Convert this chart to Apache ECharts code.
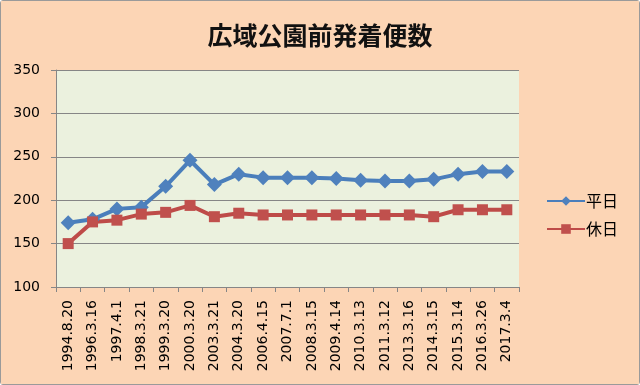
<!DOCTYPE html>
<html><head><meta charset="utf-8">
<script src="https://cdn.jsdelivr.net/npm/echarts@6/dist/echarts.min.js"></script>
<style>
html,body{margin:0;padding:0;background:#fff;}
#c{position:absolute;left:0;top:0;width:638px;height:383px;border:1px solid #9a9a9a;border-radius:3px;background:#FCD5B5;}
</style></head><body>
<div id="c"></div>
<script>
const categories = ["1994.8.20","1996.3.16","1997.4.1","1998.3.21","1999.3.20","2000.3.20","2003.3.21","2004.3.20","2006.4.15","2007.7.1","2008.3.15","2009.4.14","2010.3.13","2011.3.12","2013.3.16","2014.3.15","2015.3.14","2016.3.26","2017.3.4"];
const weekday = [174,178,190,192,216,246,218,230,226,226,226,225,223,222,222,224,230,233,233];
const holiday = [150,175,177,184,186,194,181,185,183,183,183,183,183,183,183,181,189,189,189];
const seriesNames = ["平日","休日"];
const titleText = "広域公園前発着便数";

const chart = echarts.init(document.getElementById('c'));
chart.setOption({
  backgroundColor: '#FCD5B5',
  animation: false,
  title: {
    text: titleText, left: 'center', top: 17,
    textStyle: {fontFamily: 'Noto Sans CJK JP', fontSize: 25, fontWeight: 'bold', color: '#111'}
  },
  legend: {
    orient: 'vertical', left: 540, top: 187, itemGap: 12,
    itemWidth: 38, itemHeight: 12,
    textStyle: {fontFamily: 'Noto Sans CJK JP', fontSize: 16, color: '#000', padding: [0,0,0,-4]},
    data: seriesNames
  },
  grid: {left: 55, right: 120, top: 69, bottom: 97, show: true, backgroundColor: '#EBF1DE', borderWidth: 0},
  xAxis: {
    type: 'category', data: categories, boundaryGap: true,
    axisLine: {lineStyle: {color: '#868686', width: 1}},
    axisTick: {show: true, length: 5, interval: 0, lineStyle: {color: '#868686'}},
    axisLabel: {rotate: 90, interval: 0, fontFamily: 'DejaVu Sans', fontSize: 14, color: '#000', margin: 13}
  },
  yAxis: {
    type: 'value', min: 100, max: 350, interval: 50,
    axisLine: {show: true, lineStyle: {color: '#868686', width: 1}},
    axisTick: {show: true, length: 5, lineStyle: {color: '#868686'}},
    splitLine: {lineStyle: {color: '#868686', width: 1}},
    axisLabel: {fontFamily: 'DejaVu Sans', fontSize: 14, color: '#000', margin: 16}
  },
  series: [
    {name: seriesNames[0], type: 'line', data: weekday, symbol: 'diamond', symbolSize: 15,
     lineStyle: {color: '#4A7EBB', width: 4}, itemStyle: {color: '#4F81BD'}, color: '#4A7EBB'},
    {name: seriesNames[1], type: 'line', data: holiday, symbol: 'rect', symbolSize: 11,
     lineStyle: {color: '#BE4B48', width: 4}, itemStyle: {color: '#C0504D'}, color: '#BE4B48'}
  ]
});
</script></body></html>
